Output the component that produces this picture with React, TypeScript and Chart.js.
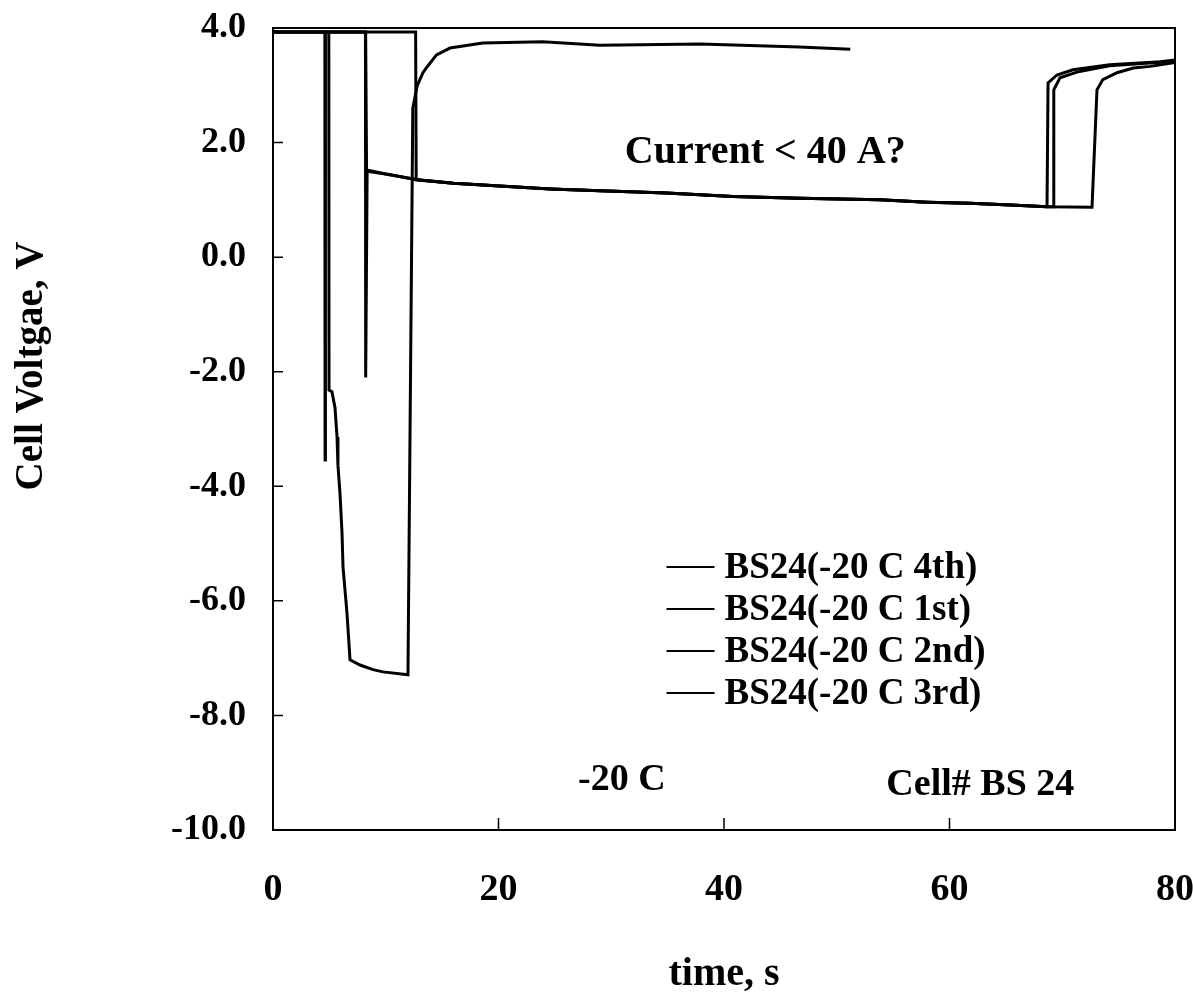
import React, { useEffect, useRef } from "react";
import { Chart, registerables } from "chart.js";

Chart.register(...registerables);

const FONT = "'Liberation Serif', 'Times New Roman', serif";

// Axis ranges and ticks
const X_MIN = 0;
const X_MAX = 80;
const X_STEP = 20;
const Y_MIN = -10;
const Y_MAX = 4;
const Y_STEP = 2;

const X_TITLE = "time, s";
const Y_TITLE = "Cell Voltgae, V";

const seriesLabels = [
  "BS24(-20 C 4th)",
  "BS24(-20 C 1st)",
  "BS24(-20 C 2nd)",
  "BS24(-20 C 3rd)",
];

// 4th: deep negative pulse, then recovery to ~3.7 V (record ends near 51 s)
const t4th = [0, 4.95, 4.97, 5.23, 5.5, 5.68, 5.76, 5.94, 6.12, 6.21, 6.56, 6.83, 7.72, 8.87, 9.76, 11.97, 12.4, 12.8, 13.3, 13.66, 14.5, 15.7, 18.6, 23.9, 29, 37.9, 46.7, 51.2];
const v4th = [3.93, 3.93, -2.32, -2.35, -2.63, -3.14, -3.63, -4.12, -4.81, -5.41, -6.21, -7.03, -7.12, -7.2, -7.24, -7.29, 2.6, 3.0, 3.22, 3.32, 3.53, 3.65, 3.74, 3.76, 3.7, 3.72, 3.67, 3.63];

// 1st: short spike, then drop to ~1.5 V, late recovery
const t1st = [0, 4.6, 4.62, 4.65, 8.2, 8.3, 10, 12.8, 16, 20.1, 24.6, 29, 34.9, 40.8, 46.7, 53.8, 58, 61.8, 65.4, 68.65, 72.64, 73.08, 73.6, 74.86, 76.3, 77.8, 80];
const v1st = [3.93, 3.93, -3.54, 3.93, 3.93, 1.5, 1.45, 1.35, 1.29, 1.24, 1.19, 1.16, 1.12, 1.06, 1.03, 1.0, 0.96, 0.94, 0.91, 0.88, 0.87, 2.92, 3.1, 3.22, 3.3, 3.33, 3.4];

// 2nd: spike to -2.1 V, then ~1.5 V plateau, recovery at ~68.7 s
const t2nd = [0, 8.2, 8.22, 8.35, 10, 12.8, 16, 20.1, 24.6, 29, 34.9, 40.8, 46.7, 53.8, 58, 61.8, 65.4, 68.65, 68.74, 69.53, 70.95, 74.2, 78.7, 80];
const v2nd = [3.93, 3.93, -2.1, 1.52, 1.45, 1.35, 1.29, 1.24, 1.19, 1.16, 1.12, 1.06, 1.03, 1.0, 0.96, 0.94, 0.91, 0.88, 3.04, 3.18, 3.27, 3.36, 3.41, 3.44];

// 3rd: drop at ~12.7 s, recovery at ~69.2 s
const t3rd = [0, 12.65, 12.7, 16, 20.1, 24.6, 29, 34.9, 40.8, 46.7, 53.8, 58, 61.8, 65.4, 68.65, 69.18, 69.25, 69.8, 71.3, 74.2, 78.7, 80];
const v3rd = [3.93, 3.93, 1.35, 1.29, 1.24, 1.19, 1.16, 1.12, 1.06, 1.03, 1.0, 0.96, 0.94, 0.91, 0.88, 0.88, 2.92, 3.13, 3.23, 3.34, 3.4, 3.43];

const seriesTimes = [t4th, t1st, t2nd, t3rd];
const seriesValues = [v4th, v1st, v2nd, v3rd];

const NOTE_CURRENT = "Current < 40 A?";
const NOTE_TEMP = "-20 C";
const NOTE_CELL = "Cell# BS 24";

const overlayPlugin = {
  id: "overlay",
  afterDraw(chart: any) {
    const { ctx, chartArea: a, scales } = chart;
    const xs = scales.x;
    const ys = scales.y;
    ctx.save();
    ctx.strokeStyle = "#000";
    ctx.fillStyle = "#000";

    // frame
    ctx.lineWidth = 2;
    ctx.strokeRect(a.left, a.top, a.right - a.left, a.bottom - a.top);

    // inward ticks
    ctx.lineWidth = 1.5;
    ctx.beginPath();
    xs.ticks.forEach((t: any) => {
      if (t.value > X_MIN && t.value < X_MAX) {
        const px = xs.getPixelForValue(t.value);
        ctx.moveTo(px, a.bottom);
        ctx.lineTo(px, a.bottom - 12);
      }
    });
    ys.ticks.forEach((t: any) => {
      if (t.value > Y_MIN && t.value < Y_MAX) {
        const py = ys.getPixelForValue(t.value);
        ctx.moveTo(a.left, py);
        ctx.lineTo(a.left + 10, py);
      }
    });
    ctx.stroke();

    // legend (inside plot)
    const legX = xs.getPixelForValue(34.9);
    const legY0 = ys.getPixelForValue(-5.41);
    const rowH = 42;
    ctx.font = `bold 37px ${FONT}`;
    ctx.textBaseline = "middle";
    ctx.textAlign = "left";
    chart.data.datasets.forEach((ds: any, i: number) => {
      const y = legY0 + i * rowH;
      ctx.lineWidth = 2;
      ctx.strokeStyle = ds.borderColor;
      ctx.beginPath();
      ctx.moveTo(legX, y);
      ctx.lineTo(legX + 48, y);
      ctx.stroke();
      ctx.fillText(ds.label, legX + 58, y + 1);
    });

    // annotations
    ctx.textBaseline = "alphabetic";
    ctx.font = `bold 40px ${FONT}`;
    ctx.fillText(NOTE_CURRENT, xs.getPixelForValue(31.2), ys.getPixelForValue(1.64));
    ctx.font = `bold 38px ${FONT}`;
    ctx.fillText(NOTE_TEMP, xs.getPixelForValue(27.05), ys.getPixelForValue(-9.3));
    ctx.fillText(NOTE_CELL, xs.getPixelForValue(54.4), ys.getPixelForValue(-9.39));

    // y-axis title
    ctx.save();
    ctx.font = `bold 39px ${FONT}`;
    ctx.textAlign = "center";
    ctx.textBaseline = "alphabetic";
    ctx.translate(42, 366);
    ctx.rotate(-Math.PI / 2);
    ctx.fillText(Y_TITLE, 0, 0);
    ctx.restore();

    ctx.restore();
  },
};

export default function App() {
  const canvasRef = useRef<HTMLCanvasElement | null>(null);

  useEffect(() => {
    if (!canvasRef.current) return;
    const datasets = seriesLabels.map((label, i) => ({
      label,
      data: seriesTimes[i].map((t, j) => ({ x: t, y: seriesValues[i][j] })),
      borderColor: "#000",
      backgroundColor: "#000",
      borderWidth: 3,
      pointRadius: 0,
      tension: 0,
      fill: false,
    }));
    const chart = new Chart(canvasRef.current, {
      type: "line",
      data: { datasets },
      options: {
        animation: false,
        responsive: true,
        maintainAspectRatio: false,
        layout: { padding: { top: 28, right: 18, left: 0, bottom: 0 } },
        plugins: {
          legend: { display: false },
          tooltip: { enabled: false },
        },
        scales: {
          x: {
            type: "linear",
            min: X_MIN,
            max: X_MAX,
            ticks: {
              stepSize: X_STEP,
              padding: 37,
              color: "#000",
              font: { family: FONT, size: 38, weight: "bold" },
              maxRotation: 0,
            },
            grid: { drawOnChartArea: false, drawTicks: false },
            border: { color: "#000", width: 2 },
            title: {
              display: true,
              text: X_TITLE,
              color: "#000",
              font: { family: FONT, size: 40, weight: "bold" },
              padding: { top: 4, bottom: 4 },
            },
            afterFit: (s: any) => {
              s.height = 173;
              s.paddingLeft = 0;
              s.paddingRight = 0;
            },
          },
          y: {
            min: Y_MIN,
            max: Y_MAX,
            ticks: {
              stepSize: Y_STEP,
              padding: 27,
              color: "#000",
              font: { family: FONT, size: 36, weight: "bold" },
              callback: (v: any) => Number(v).toFixed(1),
            },
            grid: { drawOnChartArea: false, drawTicks: false },
            border: { color: "#000", width: 2 },
            afterFit: (s: any) => {
              s.width = 273;
              s.paddingTop = 0;
              s.paddingBottom = 0;
            },
          },
        },
      } as any,
      plugins: [overlayPlugin],
    });
    return () => chart.destroy();
  }, []);

  return (
    <div
      style={{
        position: "absolute",
        left: 0,
        top: 0,
        width: 1193,
        height: 1003,
        background: "#fff",
      }}
    >
      <canvas ref={canvasRef} />
    </div>
  );
}
